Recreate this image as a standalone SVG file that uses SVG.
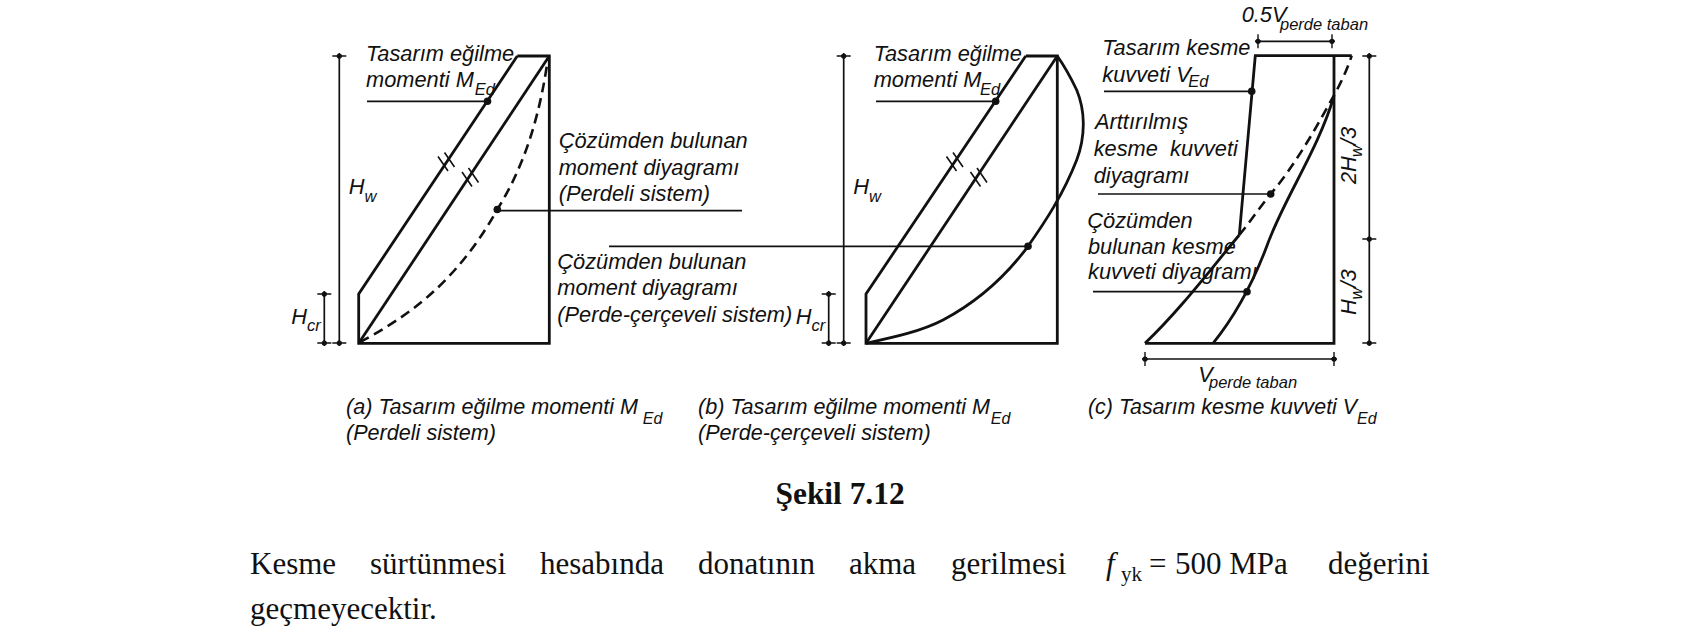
<svg xmlns="http://www.w3.org/2000/svg" width="1684" height="632" viewBox="0 0 1684 632">
<defs>
<style>
.s{fill:none;stroke:#111;stroke-width:2.8}
.t{fill:none;stroke:#111;stroke-width:1.6}
.d{fill:none;stroke:#111;stroke-width:2.6;stroke-dasharray:10 6}
.l{fill:none;stroke:#111;stroke-width:1.7}
.x{fill:#111;stroke:#111;stroke-width:1.4}
text{font-family:"Liberation Sans",Arial,sans-serif;font-style:italic;font-size:21.8px;fill:#111}
.b{font-size:16.5px}
.c{font-size:21.6px}
.cb{font-size:16px}
.r{font-family:"Liberation Serif","Times New Roman",serif;font-style:normal;font-size:31px}
</style>
<g id="dot"><circle r="3.8" fill="#111"/></g>
<g id="tick"><path class="x" d="M-7 0H7M0-3V3" /><circle r="2.6" fill="#111"/></g>
<g id="vtick"><path class="x" d="M0-7V7M-3 0H3"/><circle r="2.6" fill="#111"/></g>
</defs>
<g id="connectors">
<path class="l" d="M339.300 56V343"/><path class="l" d="M324.300 294V343"/>
<path class="l" d="M367 101.300H487"/><path class="l" d="M497 210.700H742"/>
<path class="l" d="M609 246.300H1028"/>
<path class="l" d="M843.700 56V343"/><path class="l" d="M828.700 294V343"/>
<path class="l" d="M876 101.300H996"/>
<path class="l" d="M1104 91.300H1252"/><path class="l" d="M1098 194H1271"/><path class="l" d="M1093 291.700H1247"/>
<path class="l" d="M1258 41.300H1332"/><path class="l" d="M1369.300 56V343"/><path class="l" d="M1145 359H1334"/>
<use href="#tick" x="339.300" y="56"/><use href="#tick" x="339.300" y="343"/><use href="#tick" x="324.300" y="294"/><use href="#tick" x="324.300" y="343"/>
<use href="#tick" x="843.700" y="56"/><use href="#tick" x="843.700" y="343"/><use href="#tick" x="828.700" y="294"/><use href="#tick" x="828.700" y="343"/>
<use href="#tick" x="1369.300" y="56"/><use href="#tick" x="1369.300" y="239"/><use href="#tick" x="1369.300" y="343"/>
<use href="#vtick" x="1258" y="41.300"/><use href="#vtick" x="1332" y="41.300"/><use href="#vtick" x="1145" y="359"/><use href="#vtick" x="1334" y="359"/>
<use href="#dot" x="487.500" y="101.300"/><use href="#dot" x="497.300" y="209.500"/><use href="#dot" x="1028" y="246.300"/><use href="#dot" x="995.700" y="101.300"/>
<use href="#dot" x="1251.700" y="91.300"/><use href="#dot" x="1270.700" y="194"/><use href="#dot" x="1247" y="291.700"/>
</g>
<g id="panel-a">
<path class="s" d="M517.300 56H549.300V343.300H358.700V294L517.300 56"/>
<path class="s" d="M358.700 343.300L549.300 56"/>
<path class="d" d="M360 342C405 318 455 285 497.300 209.500C525 165 540 115 548 58"/>
<path class="t" d="M438 156.500L448 171M444.500 152.500L454.500 167M462 172L472 186.500M468.500 168L478.500 182.500"/>
<text x="366" y="61">Tasarım eğilme</text><text x="366" y="87">momenti M</text><text class="b" x="474.700" y="94.500">Ed</text>
<text x="348.700" y="194">H</text><text class="b" x="364.500" y="201.500">w</text>
<text x="291.300" y="324">H</text><text class="b" x="307" y="330.500">cr</text>
<text x="558.700" y="148">Çözümden bulunan</text><text x="558.700" y="175">moment diyagramı</text><text x="558.700" y="201">(Perdeli sistem)</text>
<text x="557.300" y="269">Çözümden bulunan</text><text x="557.300" y="295">moment diyagramı</text><text x="557.300" y="321.700">(Perde-çerçeveli sistem)</text>
</g>
<g id="panel-b">
<path class="s" d="M1025.700 56H1057.300V343.300H866V294L1025.700 56"/>
<path class="s" d="M866 343.300L1057.300 56"/>
<path class="s" d="M866 343.300C895 337 922 331 943 320C975 303 1003 280 1028 246.300C1045 222 1063 195 1076.700 160C1086 135 1085 110 1076.700 90C1071 78 1065 67 1057.300 56"/>
<path class="t" d="M946.500 156.500L956.500 171M953 152.500L963 167M970.500 172L980.500 186.500M977 168L987 182.500"/>
<text x="873.700" y="61">Tasarım eğilme</text><text x="873.700" y="87">momenti M</text><text class="b" x="980" y="94.500">Ed</text>
<text x="853.300" y="194">H</text><text class="b" x="869" y="201.500">w</text>
<text x="795.700" y="324">H</text><text class="b" x="811.500" y="330.500">cr</text>
</g>
<g id="panel-c">
<path class="s" d="M1239.300 235L1255.300 55.700H1351.700"/>
<path class="s" d="M1334 55.700V343.300H1145"/>
<path class="s" d="M1239.300 235C1210 270 1180 310 1145 343.300"/>
<path class="d" d="M1239.300 235C1250 222 1260 207 1270.700 194C1295 165 1315 130 1333 97C1340 85 1347 70 1351.700 55.700"/>
<path class="s" d="M1334 96C1318 150 1285 197 1268 243C1258 270 1240 310 1213 343.300"/>
<text x="1241.700" y="21.700">0.5V</text><text class="b" x="1280" y="30">perde taban</text>
<text x="1102.300" y="55">Tasarım kesme</text><text x="1102.300" y="81.700">kuvveti V</text><text class="b" x="1188.300" y="87.300">Ed</text>
<text x="1095" y="129.300">Arttırılmış</text><text x="1093.700" y="156" xml:space="preserve">kesme  kuvveti</text><text x="1093.700" y="182.700">diyagramı</text>
<text x="1087.300" y="228">Çözümden</text><text x="1088" y="254">bulunan kesme</text><text x="1088" y="279.300">kuvveti diyagramı</text>
<text transform="translate(1355.700 184) rotate(-90)">2H</text><text class="b" transform="translate(1362 157) rotate(-90)">w</text><text transform="translate(1355.700 145) rotate(-90)">/3</text>
<text transform="translate(1355.700 315) rotate(-90)">H</text><text class="b" transform="translate(1362 299.500) rotate(-90)">w</text><text transform="translate(1355.700 287.500) rotate(-90)">/3</text>
<text x="1198.300" y="381.700">V</text><text class="b" x="1209" y="388.300">perde taban</text>
</g>
<g id="captions">
<text class="c" x="346" y="414">(a) Tasarım eğilme momenti M</text><text class="cb" x="642.800" y="424">Ed</text><text class="c" x="346" y="440">(Perdeli sistem)</text>
<text class="c" x="698" y="414">(b) Tasarım eğilme momenti M</text><text class="cb" x="990.800" y="424">Ed</text><text class="c" x="698" y="440">(Perde-çerçeveli sistem)</text>
<text class="c" x="1088" y="414" style="font-size:21.4px">(c) Tasarım kesme kuvveti V</text><text class="cb" x="1357" y="424">Ed</text>
</g>
<g id="body">
<text class="r" x="775.500" y="504" font-weight="bold" style="font-size:31.4px">Şekil 7.12</text>
<text class="r" x="250" y="573.500">Kesme</text><text class="r" x="370" y="573.500">sürtünmesi</text><text class="r" x="540" y="573.500">hesabında</text><text class="r" x="698" y="573.500">donatının</text><text class="r" x="849" y="573.500">akma</text><text class="r" x="951" y="573.500">gerilmesi</text>
<text class="r" x="1106" y="573.500" style="font-style:italic">f</text><text class="r" x="1121" y="580.500" style="font-size:21px">yk</text><text class="r" x="1149" y="573.500">=</text><text class="r" x="1175" y="573.500">500 MPa</text><text class="r" x="1328" y="573.500">değerini</text>
<text class="r" x="250" y="619">geçmeyecektir.</text>
</g>
</svg>
